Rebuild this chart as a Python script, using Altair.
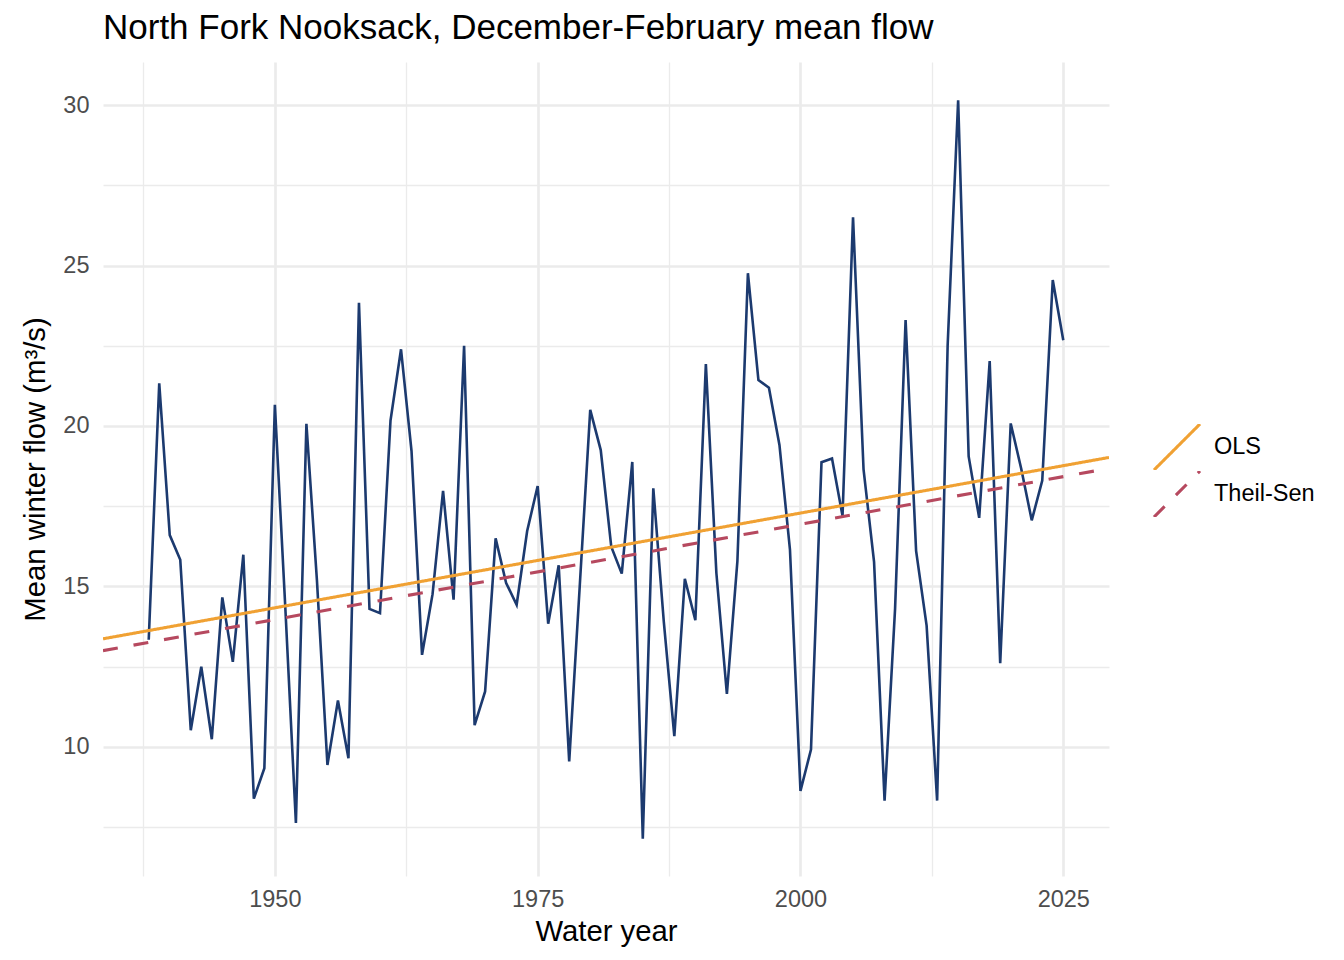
import altair as alt
import pandas as pd

# ---- data ----
years = list(range(1938, 2026))
flow = [
    13.34, 21.33, 16.60, 15.83, 10.52, 12.50, 10.24, 14.66, 12.65, 15.99,  # 1938-1947
    8.39, 9.34, 20.66, 14.30, 7.63, 20.07, 15.20, 9.44, 11.45, 9.65,       # 1948-1957
    23.84, 14.30, 14.17, 20.17, 22.39, 19.22, 12.87, 14.76, 17.98, 14.59,  # 1958-1967
    22.50, 10.68, 11.73, 16.50, 15.11, 14.43, 16.73, 18.13, 13.84, 15.66,  # 1968-1977
    9.55, 15.00, 20.50, 19.25, 16.24, 15.40, 18.88, 7.14, 18.06, 13.90,    # 1978-1987
    10.34, 15.24, 13.95, 21.93, 15.42, 11.65, 15.79, 24.76, 21.43, 21.19,  # 1988-1997
    19.41, 16.15, 8.63, 9.92, 18.87, 18.99, 17.20, 26.50, 18.65, 15.77,    # 1998-2007
    8.33, 14.31, 23.30, 16.11, 13.78, 8.33, 22.51, 30.15, 19.05, 17.14,    # 2008-2017
    22.02, 12.61, 20.08, 18.67, 17.06, 18.30, 24.55, 22.67,                # 2018-2025
]

methods = ["OLS", "Theil-Sen"]
trend_at_left = [13.37, 13.00]    # trend value at left edge of x domain
trend_at_right = [19.02, 18.68]   # trend value at right edge of x domain

x_domain = [1933.65, 2029.35]
y_domain = [5.98, 31.34]
x_grid = [1937.5, 1950, 1962.5, 1975, 1987.5, 2000, 2012.5, 2025]
y_grid = [7.5, 10, 12.5, 15, 17.5, 20, 22.5, 25, 27.5, 30]

FONT = "Liberation Sans"
NAVY = "#1c3a6f"
ORANGE = "#f0a133"
ROSE = "#b6495f"
GRID = "#ebebeb"

flow_df = pd.DataFrame({"year": years, "flow": flow})
rows = []
for m, a, b in zip(methods, trend_at_left, trend_at_right):
    rows.append({"method": m, "year": x_domain[0], "flow": a})
    rows.append({"method": m, "year": x_domain[1], "flow": b})
trend_df = pd.DataFrame(rows)

x_scale = alt.Scale(domain=x_domain, nice=False, zero=False)
y_scale = alt.Scale(domain=y_domain, nice=False, zero=False)

x_axis = alt.Axis(
    values=x_grid,
    labelExpr="datum.value % 25 === 0 ? datum.value : ''",
    grid=True,
    gridColor=GRID,
    gridWidth={"condition": {"test": "datum.value % 25 === 0", "value": 2.7}, "value": 1.35},
    domain=False,
    ticks=False,
    tickSize=0,
    labelFont=FONT,
    labelFontSize=23.5,
    labelColor="#4d4d4d",
    labelBaseline="alphabetic",
    labelPadding=30,
    labelFlush=False,
    labelOverlap=False,
    title="Water year",
    titleFont=FONT,
    titleFontSize=29.3,
    titleFontWeight="normal",
    titleColor="#000000",
    titleBaseline="alphabetic",
    titleAlign="center",
    titleX=503,
    titleY=64,
)

y_axis = alt.Axis(
    values=y_grid,
    labelExpr="datum.value % 5 === 0 ? datum.value : ''",
    grid=True,
    gridColor=GRID,
    gridWidth={"condition": {"test": "datum.value % 5 === 0", "value": 2.7}, "value": 1.35},
    domain=False,
    ticks=False,
    tickSize=0,
    labelFont=FONT,
    labelFontSize=23.5,
    labelColor="#4d4d4d",
    labelPadding=14,
    labelFlush=False,
    labelOverlap=False,
    title="Mean winter flow (m³/s)",
    titleFont=FONT,
    titleFontSize=29.3,
    titleFontWeight="normal",
    titleColor="#000000",
    titleBaseline="alphabetic",
    titleAlign="center",
    titleAngle=270,
    titleX=-59,
    titleY=407,
)

flow_line = alt.Chart(flow_df).mark_line(
    color=NAVY, strokeWidth=2.6, clip=True
).encode(
    x=alt.X("year:Q", scale=x_scale, axis=x_axis),
    y=alt.Y("flow:Q", scale=y_scale, axis=y_axis),
)

trend_lines = alt.Chart(trend_df).mark_line(strokeWidth=3.1, clip=True).encode(
    x=alt.X("year:Q", scale=x_scale),
    y=alt.Y("flow:Q", scale=y_scale),
    color=alt.Color(
        "method:N",
        scale=alt.Scale(domain=methods, range=[ORANGE, ROSE]),
        legend=alt.Legend(
            title=None,
            orient="none",
            legendX=1049,
            legendY=362,
            padding=0,
            rowPadding=1,
            clipHeight=46,
            symbolType="M-1,1L1,-1",
            symbolSize=2116,
            symbolStrokeWidth=3.1,
            symbolFillColor="transparent",
            labelFont=FONT,
            labelFontSize=23.5,
            labelColor="#000000",
            labelOffset=12,
        ),
    ),
    strokeDash=alt.StrokeDash(
        "method:N",
        scale=alt.Scale(domain=methods, range=[[1, 0], [15, 16]]),
        legend=alt.Legend(title=None),
    ),
)

chart = alt.layer(flow_line, trend_lines).properties(
    width=1006,
    height=814,
    background="white",
    autosize=alt.AutoSizeParams(type="none"),
    padding={"left": 95, "top": 54, "right": 227, "bottom": 76},
    title=alt.TitleParams(
        text="North Fork Nooksack, December-February mean flow",
        font=FONT,
        fontSize=35,
        fontWeight="normal",
        color="#000000",
        anchor="start",
        frame="group",
        baseline="alphabetic",
        offset=24,
        dy=36,
    ),
).configure_view(stroke="transparent", strokeWidth=0)

chart.save("out.html", embed_options={"renderer": "svg", "actions": False})
